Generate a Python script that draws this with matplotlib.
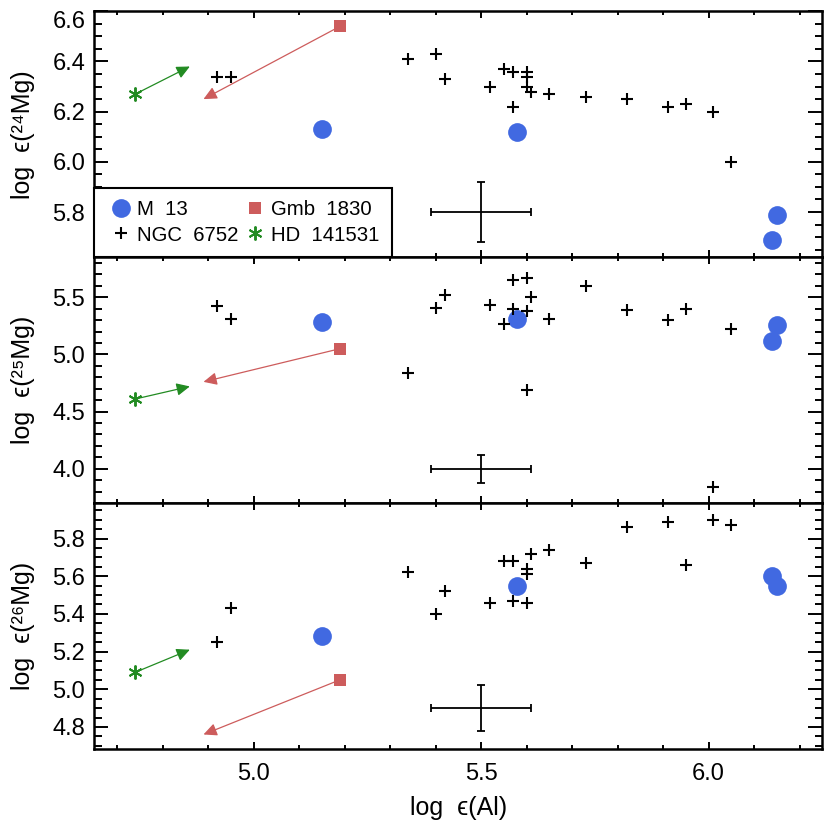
import matplotlib
matplotlib.use('Agg')
import matplotlib.pyplot as plt
from matplotlib.ticker import MultipleLocator, FixedLocator

plt.rcParams['font.family'] = ['Liberation Sans', 'DejaVu Sans']

# M 13 giants: log eps(Al) and the three Mg isotopes
m13_al = [5.15, 5.58, 6.15, 6.14]
m13_mg24 = [6.13, 6.12, 5.79, 5.69]
m13_mg25 = [5.28, 5.31, 5.26, 5.12]
m13_mg26 = [5.28, 5.55, 5.55, 5.60]

# NGC 6752 comparison sample
ngc_al = [4.92, 4.95, 5.34, 5.40, 5.42, 5.52, 5.55, 5.57, 5.57, 5.60,
          5.60, 5.60, 5.61, 5.65, 5.73, 5.82, 5.91, 5.95, 6.01, 6.05]
ngc_mg24 = [6.34, 6.34, 6.41, 6.43, 6.33, 6.30, 6.37, 6.36, 6.22, 6.36,
            6.34, 6.30, 6.28, 6.27, 6.26, 6.25, 6.22, 6.23, 6.20, 6.00]
ngc_mg25 = [5.42, 5.31, 4.84, 5.41, 5.52, 5.43, 5.27, 5.65, 5.40, 5.67,
            5.38, 4.69, 5.50, 5.31, 5.60, 5.39, 5.30, 5.40, 3.84, 5.22]
ngc_mg26 = [5.25, 5.43, 5.62, 5.40, 5.52, 5.46, 5.68, 5.68, 5.47, 5.64,
            5.61, 5.46, 5.72, 5.74, 5.67, 5.86, 5.89, 5.66, 5.90, 5.87]

# Gmb 1830 and HD 141531: [value, shifted value] drawn as arrows
gmb_al = [5.19, 4.89]
gmb_mg24 = [6.54, 6.25]
gmb_mg25 = [5.05, 4.76]
gmb_mg26 = [5.05, 4.76]

hd_al = [4.74, 4.86]
hd_mg24 = [6.27, 6.38]
hd_mg25 = [4.61, 4.72]
hd_mg26 = [5.09, 5.21]

# typical error bar
err_al = 5.5
err_mg = [5.80, 4.00, 4.90]
err_xsize = 0.11
err_ysize = 0.12

ylabels = ['log  ϵ(²⁴Mg)', 'log  ϵ(²⁵Mg)', 'log  ϵ(²⁶Mg)']
ylims = [(5.62, 6.60), (3.70, 5.85), (4.683, 5.988)]
yticks = [[5.8, 6.0, 6.2, 6.4, 6.6], [4.0, 4.5, 5.0, 5.5], [4.8, 5.0, 5.2, 5.4, 5.6, 5.8]]
yminor = [0.05, 0.1, 0.05]

blue = '#4169E1'
red = '#CD5C5C'
green = '#228B22'

fig, axes = plt.subplots(3, 1, figsize=(8.3, 8.3), dpi=100, sharex=True)
fig.subplots_adjust(left=0.1136, right=0.9907, bottom=0.0976, top=0.9864, hspace=0)

mg_m13 = [m13_mg24, m13_mg25, m13_mg26]
mg_ngc = [ngc_mg24, ngc_mg25, ngc_mg26]
mg_gmb = [gmb_mg24, gmb_mg25, gmb_mg26]
mg_hd = [hd_mg24, hd_mg25, hd_mg26]

for i, ax in enumerate(axes):
    # arrows first so markers sit on top
    ax.annotate('', xy=(gmb_al[1], mg_gmb[i][1]), xytext=(gmb_al[0], mg_gmb[i][0]),
                arrowprops=dict(arrowstyle='-|>,head_length=0.8,head_width=0.38',
                                color=red, lw=0.9, shrinkA=0, shrinkB=0, mutation_scale=10))
    ax.annotate('', xy=(hd_al[1], mg_hd[i][1]), xytext=(hd_al[0], mg_hd[i][0]),
                arrowprops=dict(arrowstyle='-|>,head_length=0.8,head_width=0.38',
                                color=green, lw=0.9, shrinkA=0, shrinkB=0, mutation_scale=10))

    l_m13, = ax.plot(m13_al, mg_m13[i], 'o', color=blue, ms=13.5, mew=0, label='M  13', zorder=3)
    l_ngc, = ax.plot(ngc_al, mg_ngc[i], '+', color='black', ms=8.5, mew=1.5, label='NGC  6752', zorder=4)
    l_gmb, = ax.plot(gmb_al[0], mg_gmb[i][0], 's', color=red, ms=8.5, mew=0, label='Gmb  1830', zorder=3)
    l_hd, = ax.plot(hd_al[0], mg_hd[i][0], marker=(6, 2, 0), ls='none', color=green, ms=10,
                    mew=1.4, label='HD  141531', zorder=3)

    ax.errorbar(err_al, err_mg[i], xerr=err_xsize, yerr=err_ysize, color='black',
                lw=1.3, capsize=2.9, capthick=1.3)

    ax.set_xlim(4.65, 6.25)
    ax.set_ylim(*ylims[i])
    ax.yaxis.set_major_locator(FixedLocator(yticks[i]))
    ax.yaxis.set_minor_locator(MultipleLocator(yminor[i]))
    ax.xaxis.set_major_locator(MultipleLocator(0.5))
    ax.xaxis.set_minor_locator(MultipleLocator(0.1))

    ax.tick_params(axis='both', which='both', direction='in', top=True, right=True, width=1.4)
    ax.tick_params(axis='y', which='major', length=10, pad=6.5, labelsize=17)
    ax.tick_params(axis='y', which='minor', length=5.4)
    ax.tick_params(axis='x', which='major', length=5, pad=10, labelsize=17)
    ax.tick_params(axis='x', which='minor', length=2.7)
    for s in ax.spines.values():
        s.set_linewidth(1.8)

    ax.set_ylabel(ylabels[i], fontsize=18)
    ax.yaxis.set_label_coords(-0.081, 0.5)

    if i == 0:
        ax.legend(handles=[l_m13, l_ngc, l_gmb, l_hd], ncol=2, loc='lower left',
                  bbox_to_anchor=(0, 0), borderaxespad=0, fancybox=False,
                  edgecolor='black', framealpha=1, fontsize=14.7, numpoints=1,
                  handlelength=1.4, handletextpad=0.05, borderpad=0.62,
                  labelspacing=0.3, columnspacing=0.15).get_frame().set_linewidth(1.5)

# top label "6.6" sits on the upper edge
fig.canvas.draw()
for lab in axes[0].get_yticklabels():
    if lab.get_text() in ('6.6', '6.60'):
        lab.set_verticalalignment('top')

axes[2].set_xlabel('log  ϵ(Al)', fontsize=18)
axes[2].xaxis.set_label_coords(0.5, -0.19)

fig.savefig('out.png', dpi=100)
